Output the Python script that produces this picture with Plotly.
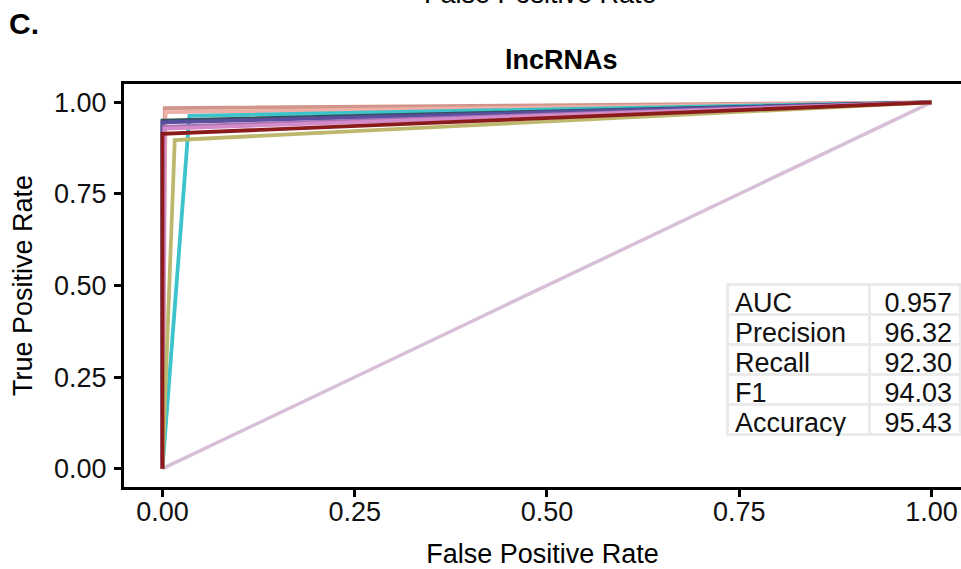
import plotly.graph_objects as go

# ROC curves: (0,0) -> (fpr, tpr) -> (1,1)
curve_fpr = [0.003, 0.004, 0.035, 0.0, 0.0, 0.002, 0.003, 0.016, 0.0]
curve_tpr = [0.984, 0.973, 0.963, 0.950, 0.945, 0.933, 0.928, 0.897, 0.914]
curve_colors = ["#D1958A", "#EDAFA6", "#3CC3CB", "#35515C", "#5A4E9E",
                "#A873B4", "#D38BC9", "#BDB86E", "#8B1A1A"]
chance_x = [0, 1]
chance_y = [0, 1]

metric_names = ["AUC", "Precision", "Recall", "F1", "Accuracy"]
metric_values = ["0.957", "96.32", "92.30", "94.03", "95.43"]

x_ticks = [0, 0.25, 0.5, 0.75, 1.0]
x_ticklabels = ["0.00", "0.25", "0.50", "0.75", "1.00"]
y_ticks = [0, 0.25, 0.5, 0.75, 1.0]
y_ticklabels = ["0.00", "0.25", "0.50", "0.75", "1.00"]

W, H = 961, 569
ML, MR, MT, MB = 124, 0, 84, 569 - 487
PW, PH = W - ML - MR, H - MT - MB

def px(xp):
    return (xp - ML) / PW

def py(yp):
    return (H - MB - yp) / PH

fig = go.Figure()

fig.add_trace(go.Scatter(x=chance_x, y=chance_y, mode="lines",
                         line=dict(color="#D8BFD8", width=3.5),
                         showlegend=False, hoverinfo="skip"))
for f, t, c in zip(curve_fpr, curve_tpr, curve_colors):
    fig.add_trace(go.Scatter(x=[0, f, 1], y=[0, t, 1], mode="lines",
                             line=dict(color=c, width=3.8),
                             showlegend=False, hoverinfo="skip"))

table_font = dict(family="Liberation Sans", size=27, color="#111111")
fig.add_trace(go.Table(
    domain=dict(x=[px(727), px(961)], y=[py(436), py(284)]),
    columnwidth=[143, 91],
    header=dict(values=[metric_names[0], metric_values[0]],
                align=["left", "right"], font=table_font,
                fill_color="white", line=dict(color="#EBEBEB", width=3),
                height=30),
    cells=dict(values=[metric_names[1:], metric_values[1:]],
               align=["left", "right"], font=table_font,
               fill_color="white", line=dict(color="#EBEBEB", width=3),
               height=30),
))

axis_font = dict(family="Liberation Sans", size=27, color="#111111")
fig.update_xaxes(range=[-0.05, (961 - 124) / 769 - 0.05], tickvals=x_ticks,
                 ticktext=x_ticklabels, showgrid=False, zeroline=False,
                 showline=True, linecolor="black", linewidth=3, mirror=True,
                 ticks="outside", ticklen=7, tickwidth=3, tickcolor="black",
                 tickfont=axis_font, ticklabelstandoff=-8,
                 title=dict(text="False Positive Rate",
                            font=dict(family="Liberation Sans", size=27, color="black"),
                            standoff=18))
fig.update_yaxes(range=[-0.05, 1.05], tickvals=y_ticks, ticktext=y_ticklabels,
                 showgrid=False, zeroline=False,
                 showline=True, linecolor="black", linewidth=3, mirror=False,
                 ticks="outside", ticklen=7, tickwidth=3, tickcolor="black",
                 tickfont=axis_font, ticklabelstandoff=2,
                 title=dict(text="True Positive Rate",
                            font=dict(family="Liberation Sans", size=27, color="black"),
                            standoff=14))

fig.update_layout(
    width=W, height=H,
    margin=dict(l=ML, r=MR, t=MT, b=MB, autoexpand=False),
    paper_bgcolor="white", plot_bgcolor="white",
    annotations=[
        dict(text="<b>lncRNAs</b>", xref="paper", yref="paper",
             x=px(561), y=py(60), xanchor="center", yanchor="middle",
             showarrow=False,
             font=dict(family="Liberation Sans", size=27, color="black")),
        dict(text="<b>C.</b>", xref="paper", yref="paper",
             x=px(7), y=py(24), xanchor="left", yanchor="middle",
             showarrow=False,
             font=dict(family="Liberation Sans", size=30, color="black")),
        dict(text="False Positive Rate", xref="paper", yref="paper",
             x=px(540), y=py(-6), xanchor="center", yanchor="middle",
             showarrow=False,
             font=dict(family="Liberation Sans", size=27, color="black")),
    ],
)

fig.write_html("out.html",
               config={"displayModeBar": False},
               post_script="document.body.style.margin='0px';document.body.style.padding='0px';")
